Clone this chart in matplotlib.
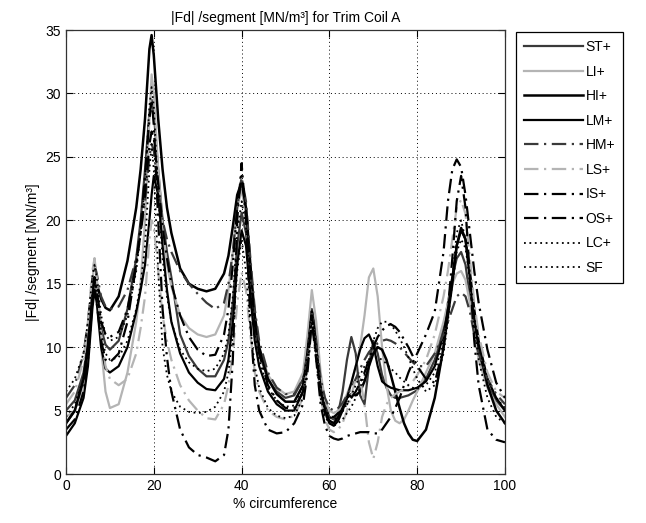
import numpy as np
import matplotlib
matplotlib.use('Agg')
import matplotlib.pyplot as plt

plt.rcParams['font.family'] = ['Liberation Sans', 'DejaVu Sans']

# % circumference
x = [0, 2, 4, 5, 6, 6.5, 7, 8, 9, 10,
     12, 14, 16, 17, 18, 19, 19.5, 20, 21, 22,
     23, 24, 26, 28, 30, 32, 34, 36, 37, 38,
     39, 40, 41, 42, 43, 44, 46, 48, 50, 52,
     54, 55, 56, 57, 58, 59, 60, 61, 62, 63,
     64, 65, 66, 67, 68, 69, 70, 71, 72, 73,
     74, 75, 76, 77, 78, 79, 80, 82, 84, 86,
     87, 88, 89, 90, 91, 92, 93, 94, 96, 98,
     100]

st = [5.0, 5.8, 8.0, 10.5, 14.5, 15.5, 14.5, 11.5, 10.2, 9.8,
      10.5, 13, 17, 20, 24, 28.5, 29.5, 28.5, 24, 20,
      17.5, 15.5, 11, 9.3, 8.3, 7.7, 7.7, 9, 10.5, 13.5,
      18, 20.6, 19, 15, 11.5, 9.5, 7.5, 6.5, 6, 6.2,
      7.5, 10, 13, 11, 7.5, 5.5, 4.5, 4.3, 4.8, 6.5,
      9, 10.8, 9.5, 6.2, 5.5, 8.5, 10.5, 9.5, 7.8, 6.8,
      6.2, 6, 6, 6.1, 6.2, 6.4, 6.6, 7.5, 9, 11.5,
      13.5, 15.5, 17, 17.5, 16.5, 14, 11.5, 9.5, 7, 5.8,
      5.0]
li = [4.5, 5.0, 7.0, 9.5, 15, 17, 15.5, 10, 6.5, 5.2,
      5.5, 8, 12, 15, 20, 28, 31.5, 30, 24, 19.5,
      16.5, 14.8, 12.5, 11.5, 11, 10.8, 11, 12.5, 14.5, 17.5,
      21, 22.4, 20.5, 16, 12.5, 10, 7.8, 6.8, 6.3, 6.5,
      8, 11, 14.5, 12, 8, 5.8, 5, 4.8, 5, 5.5,
      6.3, 7.2, 8.5, 10, 12.5, 15.5, 16.2, 14, 10, 7,
      5, 4.2, 4.0, 4.3, 5, 5.8, 6.5, 8, 9.5, 12,
      13.5, 15, 15.8, 16, 15.3, 13.5, 11, 9, 6.8, 5.5,
      4.5]
hi = [4.0, 5.0, 7.5, 10, 14, 15.5, 15, 13.8, 13.1, 12.9,
      14, 16.8, 21, 24, 28, 33.5, 34.6, 33, 28, 24,
      21, 19, 16.2, 15, 14.6, 14.4, 14.6, 15.8, 17.2, 19.5,
      22, 23, 21, 16.5, 12.5, 10, 7.5, 6.3, 5.7, 5.7,
      7, 9.5, 12.8, 10, 6.5, 5, 4.2, 4, 4.5, 5.2,
      6, 6.3, 6.2, 6.5, 7.3, 8.5, 9.5, 10, 9.8, 9,
      7.8, 6.5, 5.2, 4, 3.2, 2.7, 2.6, 3.5, 6, 10,
      12.5, 15, 18, 19.4, 18.5, 15.5, 12.5, 10, 7, 5,
      4]
lm = [3.0, 4.0, 6.0, 8.5, 13, 14.5, 13.5, 10, 8.3, 8.0,
      8.5, 10, 12.8, 14.5, 16.5, 20, 22, 23.5, 22, 18,
      14.5, 12, 9.5, 8, 7.2, 6.7, 6.6, 7.5, 9, 12,
      16.5, 19.2, 18, 14, 10.5, 8.5, 6.5, 5.5, 5, 5,
      6.5, 9, 12.5, 9.5, 6.3, 4.8, 4, 3.8, 4.2, 5,
      6, 7.2, 8.5, 9.8, 10.7, 11, 10.2, 8.5, 7.3, 7,
      6.8, 6.7, 6.6, 6.6, 6.6, 6.7, 6.8, 7.3, 8.5, 11,
      13, 15.5, 18, 19.2, 18.5, 16, 13, 10.5, 7.5, 6,
      5]
hm = [6.0, 7, 9.5, 12, 15.5, 16.5, 15.8, 14, 13.2, 13,
      13.2, 14.5, 17, 19, 21.5, 25, 26, 25.5, 22.5, 20,
      18.5, 17.5, 16, 15, 14.2, 13.5, 13, 13.5, 15, 17.5,
      21, 23.4, 21.5, 17, 13, 10.5, 8, 6.8, 6.3, 6.3,
      7.5, 9.5, 12.8, 10.5, 7.5, 6, 5.2, 5, 5.2, 5.6,
      6.2, 6.8, 7.5, 8.3, 9, 9.6, 10, 10.3, 10.5, 10.6,
      10.5, 10.3, 10, 9.6, 9.2, 8.8, 8.5, 8.5, 9.5, 11,
      12, 13, 14, 14.3, 14, 12.8, 11, 9.5, 7.5, 6.3,
      5.5]
ls_ = [5.5, 6.5, 9, 12, 16, 17, 15.5, 11, 8.5, 7.5,
       7, 7.5, 9.5, 11.5, 14, 18.5, 20, 19.5, 16, 12.5,
       10.5, 9, 7, 5.8, 5, 4.4, 4.3, 5.5, 7, 9.5,
       13.5, 15.9, 14.5, 11, 8, 6.5, 5, 4.5, 4.3, 4.6,
       6, 8.5, 12, 9.5, 6, 4.3, 3.5, 3.3, 3.5, 4,
       5, 6.2, 7.5, 7.5, 5.5, 2.5, 1.2, 2.5, 4.5, 5.5,
       6, 6.3, 6.5, 6.7, 7, 7.3, 7.8, 9, 11, 14,
       16, 18.5, 21, 21.6, 20.5, 17, 13.5, 11, 8, 6.5,
       6]
is_ = [3.5, 4.3, 6.5, 9, 13.5, 14.5, 13.5, 10.5, 9, 8.8,
       9.5, 12, 16.5, 19.5, 23.5, 28, 29.5, 27.5, 20, 13,
       9.2, 6.5, 3.5, 2.1, 1.5, 1.3, 1.0, 1.5, 3.5, 9,
       20, 24.5, 20, 12, 7, 5, 3.5, 3.2, 3.3, 4,
       5.5, 8, 12, 9, 5.5, 3.8, 3, 2.8, 2.7, 2.8,
       3, 3.1, 3.2, 3.3, 3.3, 3.3, 3.2, 3.2, 3.5, 4,
       4.5, 5.2, 6, 7, 8, 8.8, 9.5, 11, 12.8, 17.5,
       21.5, 24, 24.8, 24.2, 22, 19, 16, 13.5, 9.8, 7.2,
       6]
os_ = [4.0, 5, 7.5, 10, 14, 15.5, 14.5, 12, 11, 10.8,
       11.2, 13, 16.5, 19, 22, 26, 27, 26.5, 23, 19.5,
       17, 15, 12.5, 10.8, 9.8, 9.3, 9.4, 11, 13, 16.5,
       21, 23.5, 21, 16, 12, 9.5, 7, 5.8, 5.2, 5.2,
       6.5, 8.5, 12.5, 9.5, 6.5, 5, 4.5, 4.5, 4.8, 5,
       5.5, 6, 6.5, 7.2, 8, 9, 10, 10.8, 11.3, 11.7,
       11.8, 11.6, 11.2, 10.6, 10, 9.3, 8.5, 7.5, 7.2, 10,
       13, 17, 21.5, 23.5, 21, 15.5, 10.5, 7, 3.5, 2.7,
       2.5]
lc = [4.5, 5.5, 7.5, 10, 14, 15.5, 14.5, 11, 9.5, 9,
      9.2, 10.5, 13, 15, 18, 24, 26, 24, 16, 10,
      7.8, 6.5, 5.3, 4.9, 4.8, 4.9, 5.3, 6.5, 8, 11,
      16, 18.5, 16, 11.5, 8.5, 6.8, 5.2, 4.6, 4.4, 4.6,
      6, 8.5, 12.2, 9, 6, 4.5, 4, 3.8, 4, 4.3,
      4.8, 5.3, 6, 6.8, 7.8, 9, 10.5, 11.5, 12, 12,
      11.8, 11.3, 10.7, 10, 9.2, 8.3, 7.5, 6.5, 7, 9.5,
      12, 15.5, 19, 20, 18.5, 15, 11.5, 9, 6, 4.5,
      4]
sf = [6.5, 7.5, 9.5, 12, 15.5, 16.5, 15.5, 12.5, 11, 10.5,
      10.8, 12.5, 16, 19, 23, 29, 30.5, 29, 22, 17,
      14, 12, 9.8, 8.8, 8.3, 8.1, 8.3, 9.5, 11, 14,
      19, 21.5, 19.5, 15, 11, 9, 6.8, 5.8, 5.3, 5.4,
      7, 9.5, 13, 10, 7, 5.3, 4.5, 4.3, 4.5, 5,
      5.5, 6.2, 7, 7.8, 8.5, 9, 9.2, 9.2, 9, 8.7,
      8.3, 8, 7.6, 7.3, 7, 6.8, 6.7, 7, 8, 10.5,
      12.5, 15, 17.5, 18.5, 17.8, 15.5, 12.5, 10, 7.5, 6,
      5.2]

labels = ['ST+', 'LI+', 'HI+', 'LM+', 'HM+', 'LS+', 'IS+', 'OS+', 'LC+', 'SF']
series = [st, li, hi, lm, hm, ls_, is_, os_, lc, sf]

dk = '#3a3a3a'
lt = '#b4b4b4'
dd = (0, (6.5, 2.5, 1, 2.5))
dt = (0, (1, 2))
styles = [(dk, '-', 1.6), (lt, '-', 1.6), ('black', '-', 1.8), ('black', '-', 1.6),
          (dk, dd, 1.6), (lt, dd, 1.6), ('black', dd, 1.6), ('black', dd, 1.6),
          ('black', dt, 1.3), ('black', dt, 1.3)]

fig = plt.figure(figsize=(6.46, 5.23), dpi=100)
ax = fig.add_axes([66/646, 1-474/523, (505-66)/646, (474-30)/523])

for s, lab, (c, l, w) in zip(series, labels, styles):
    ax.plot(x, s, color=c, linestyle=l, linewidth=w, label=lab)

ax.set_xlim(0, 100)
ax.set_ylim(0, 35)
ax.set_xticks(range(0, 101, 20))
ax.set_yticks(range(0, 36, 5))
ax.grid(True, color='black', linestyle=(0, (1, 3)), linewidth=0.7)
ax.tick_params(direction='in', top=True, right=True, length=5, labelsize=10, width=0.8)
for sp in ax.spines.values():
    sp.set_color('#333333')
    sp.set_linewidth(0.9)

ax.set_title('|Fd| /segment [MN/m\u00b3] for Trim Coil A', fontsize=10, pad=6)
ax.set_xlabel('% circumference', fontsize=10, labelpad=3)
ax.set_ylabel('|Fd| /segment [MN/m\u00b3]', fontsize=10, labelpad=4)

leg = fig.legend(loc='upper left', bbox_to_anchor=(516/646, 1-31.7/523),
                 borderaxespad=0, fontsize=10, handlelength=4.2,
                 handletextpad=0.2, labelspacing=0.76, borderpad=0.6,
                 fancybox=False, framealpha=1, edgecolor='black')
leg.get_frame().set_linewidth(0.9)

fig.savefig('out.png', dpi=100)
